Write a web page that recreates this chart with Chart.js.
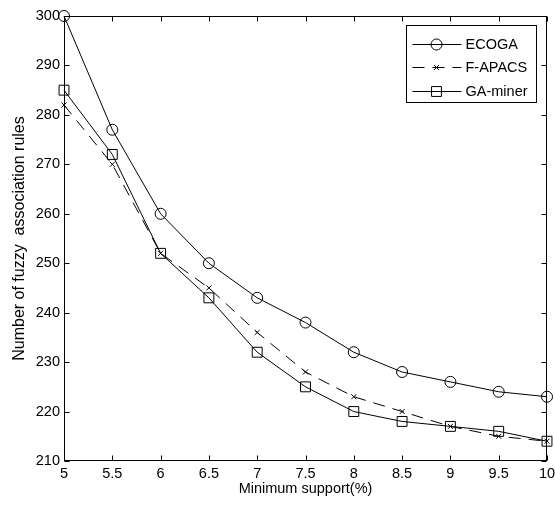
<!DOCTYPE html>
<html>
<head>
<meta charset="utf-8">
<title>Fuzzy association rules vs minimum support</title>
<script src="https://cdn.jsdelivr.net/npm/chart.js@4/dist/chart.umd.min.js"></script>
<style>
  html, body { margin: 0; padding: 0; background: #fff; }
  #wrap { width: 555px; height: 507px; }
</style>
</head>
<body>
<div id="wrap"><canvas id="chart" width="555" height="507"></canvas></div>
<script>
const support = [5, 5.5, 6, 6.5, 7, 7.5, 8, 8.5, 9, 9.5, 10];
const ecoga = [300, 277, 260, 250, 243, 238, 232, 228, 226, 224, 223];
const fApacs = [282, 270, 252, 245, 236, 228, 223, 220, 217, 215, 214];
const gaMiner = [285, 272, 252, 243, 232, 225, 220, 218, 217, 216, 214];
const yTicks = [210, 220, 230, 240, 250, 260, 270, 280, 290, 300];

const FONT = 'Liberation Sans, Arial, Helvetica, sans-serif';
const TICK = 5;

function series(label, values, pointStyle, radius, dash) {
    return {
        label: label,
        data: values.map((v, i) => ({ x: support[i], y: v })),
        borderColor: '#000',
        borderWidth: 1,
        borderDash: dash || [],
        pointStyle: pointStyle,
        pointRadius: radius,
        pointBorderColor: '#000',
        pointBorderWidth: 1,
        pointBackgroundColor: 'rgba(0,0,0,0)',
        tension: 0,
        fill: false,
        clip: false
    };
}

// box around the plot with inward tick marks on all four sides
const frameTicks = {
    id: 'frameTicks',
    afterDraw(chart) {
        const { ctx, chartArea: a, scales: { x, y } } = chart;
        const L = Math.round(a.left) + 0.5, R = Math.round(a.right) - 0.5;
        const T = Math.round(a.top) + 0.5, B = Math.round(a.bottom) - 0.5;
        ctx.save();
        ctx.strokeStyle = '#000';
        ctx.lineWidth = 1;
        ctx.beginPath();
        x.ticks.forEach(t => {
            const px = Math.round(x.getPixelForValue(t.value)) + 0.5;
            ctx.moveTo(px, B); ctx.lineTo(px, B - TICK);
            ctx.moveTo(px, T); ctx.lineTo(px, T + TICK);
        });
        y.ticks.forEach(t => {
            const py = Math.round(y.getPixelForValue(t.value)) + 0.5;
            ctx.moveTo(L, py); ctx.lineTo(L + TICK, py);
            ctx.moveTo(R, py); ctx.lineTo(R - TICK, py);
        });
        ctx.stroke();
        ctx.strokeRect(L, T, R - L, B - T);
        ctx.restore();
    }
};

// legend box in the upper right corner: line sample with marker, then label
const boxLegend = {
    id: 'boxLegend',
    afterDraw(chart) {
        const { ctx, chartArea: a } = chart;
        const w = 130, h = 77;
        const left = Math.round(a.right) - 141 + 0.5;
        const top = Math.round(a.top) + 9 + 0.5;
        ctx.save();
        ctx.fillStyle = '#fff';
        ctx.fillRect(left, top, w, h);
        ctx.strokeStyle = '#000';
        ctx.lineWidth = 1;
        ctx.strokeRect(left, top, w, h);
        ctx.font = '14.5px ' + FONT;
        ctx.textBaseline = 'middle';
        ctx.textAlign = 'left';
        chart.data.datasets.forEach((ds, i) => {
            const cy = Math.round(top + 18 + i * 23.5) + 0.5;
            ctx.setLineDash(ds.borderDash);
            ctx.beginPath();
            ctx.moveTo(left + 6, cy);
            ctx.lineTo(left + 55, cy);
            ctx.stroke();
            ctx.setLineDash([]);
            ctx.fillStyle = 'rgba(0,0,0,0)';
            Chart.helpers.drawPoint(ctx, {
                pointStyle: ds.pointStyle,
                radius: ds.pointRadius,
                rotation: 0,
                borderWidth: 1
            }, left + 30, cy);
            ctx.fillStyle = '#000';
            ctx.fillText(ds.label, left + 59, cy);
        });
        ctx.restore();
    }
};

new Chart(document.getElementById('chart'), {
    type: 'line',
    data: {
        datasets: [
            series('ECOGA', ecoga, 'circle', 5.5),
            series('F-APACS', fApacs, 'crossRot', 3.5, [12, 8]),
            series('GA-miner', gaMiner, 'rect', 7)
        ]
    },
    options: {
        responsive: false,
        animation: false,
        layout: { padding: { top: 16, right: 7, left: 0, bottom: 0 } },
        plugins: {
            legend: { display: false },
            tooltip: { enabled: false }
        },
        scales: {
            x: {
                type: 'linear',
                min: 5,
                max: 10,
                afterFit: s => { s.height = 46; s.paddingLeft = 0; s.paddingRight = 0; },
                afterBuildTicks: s => { s.ticks = support.map(v => ({ value: v })); },
                ticks: {
                    color: '#000',
                    font: { family: FONT, size: 14.5 },
                    padding: 4,
                    maxRotation: 0,
                    autoSkip: false,
                    callback: v => String(v)
                },
                grid: { display: false, drawTicks: false },
                border: { display: false },
                title: {
                    display: true,
                    text: 'Minimum support(%)',
                    color: '#000',
                    font: { family: FONT, size: 14.5 },
                    padding: { top: 0, bottom: 9 }
                }
            },
            y: {
                type: 'linear',
                min: 210,
                max: 300,
                afterFit: s => { s.width = 64; s.paddingTop = 0; s.paddingBottom = 0; },
                afterBuildTicks: s => { s.ticks = yTicks.map(v => ({ value: v })); },
                ticks: {
                    color: '#000',
                    font: { family: FONT, size: 14.5 },
                    padding: 4,
                    autoSkip: false,
                    callback: v => String(v)
                },
                grid: { display: false, drawTicks: false },
                border: { display: false },
                title: {
                    display: true,
                    text: 'Number of fuzzy  association rules',
                    color: '#000',
                    font: { family: FONT, size: 16 },
                    padding: { top: 10, bottom: 0 }
                }
            }
        }
    },
    plugins: [frameTicks, boxLegend]
});
</script>
</body>
</html>
